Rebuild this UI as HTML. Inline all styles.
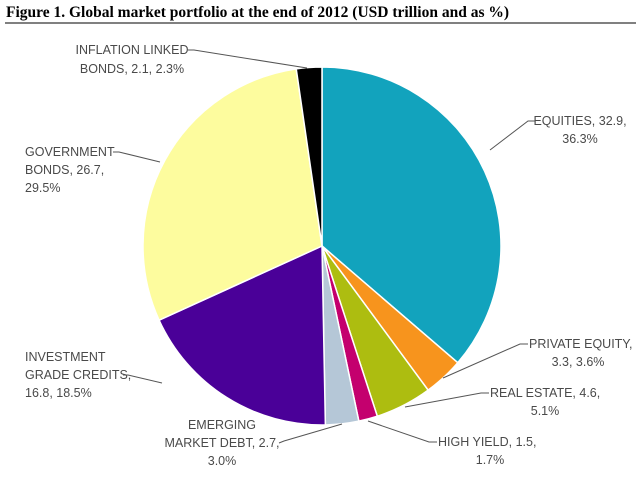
<!DOCTYPE html>
<html><head><meta charset="utf-8"><style>
html,body{margin:0;padding:0;background:#fff;}
svg{display:block;}
.lbl{font-family:"Liberation Sans",sans-serif;font-size:12.5px;fill:#4a4a4a;}
.ld{stroke:#555;stroke-width:1;fill:none;}
</style></head><body>
<svg id="chart" width="640" height="478" viewBox="0 0 640 478">
<text x="6" y="17" font-family="Liberation Serif,serif" font-weight="bold" font-size="15.5" fill="#000">Figure 1. Global market portfolio at the end of 2012 (USD trillion and as %)</text>
<line x1="5" y1="23" x2="636" y2="23" stroke="#000" stroke-width="1"/>
<g id="slices"></g>
<g>
<g><text class="lbl" text-anchor="middle" x="132" y="54">INFLATION LINKED</text><text class="lbl" text-anchor="middle" x="132" y="73">BONDS, 2.1, 2.3%</text><polyline class="ld" points="188,50 194,50 307,68"/></g>
<g><text class="lbl" text-anchor="middle" x="580" y="125">EQUITIES, 32.9,</text><text class="lbl" text-anchor="middle" x="580" y="143">36.3%</text><polyline class="ld" points="535,121 528,121 490,150"/></g>
<g><text class="lbl" x="25" y="156">GOVERNMENT</text><text class="lbl" x="25" y="174">BONDS, 26.7,</text><text class="lbl" x="25" y="192">29.5%</text><polyline class="ld" points="113,152 119,152 160,162"/></g>
<g><text class="lbl" x="25" y="361">INVESTMENT</text><text class="lbl" x="25" y="379">GRADE CREDITS,</text><text class="lbl" x="25" y="397">16.8, 18.5%</text><polyline class="ld" points="123,375 128,375 162,383"/></g>
<g><text class="lbl" text-anchor="middle" x="222" y="429">EMERGING</text><text class="lbl" text-anchor="middle" x="222" y="447">MARKET DEBT, 2.7,</text><text class="lbl" text-anchor="middle" x="222" y="465">3.0%</text><polyline class="ld" points="279,443 284,441 342,424"/></g>
<g><text class="lbl" x="438" y="446">HIGH YIELD, 1.5,</text><text class="lbl" text-anchor="middle" x="490" y="464">1.7%</text><polyline class="ld" points="437,442 429,442 368,421"/></g>
<g><text class="lbl" x="490" y="397">REAL ESTATE, 4.6,</text><text class="lbl" text-anchor="middle" x="545" y="415">5.1%</text><polyline class="ld" points="489,393 481,393 405,407"/></g>
<g><text class="lbl" x="529" y="348">PRIVATE EQUITY,</text><text class="lbl" text-anchor="middle" x="578" y="366">3.3, 3.6%</text><polyline class="ld" points="528,344 520,344 443,378"/></g>
</g>
</svg>
<script>
const categories = ["Equities","Private equity","Real estate","High yield","Emerging market debt","Investment grade credits","Government bonds","Inflation linked bonds"];
const values = [36.3, 3.6, 5.1, 1.7, 3.0, 18.5, 29.5, 2.3];
const colors = ["#12a3bd","#f7941d","#adbd10","#c4006e","#b5c7d7","#4a0098","#fdfc9e","#000000"];
const cx = 322, cy = 246, r = 179;
const total = values.reduce((a,b)=>a+b,0);
function angle(v){ return v/total*2*Math.PI; }
function pt(a){ return [cx + r*Math.sin(a), cy - r*Math.cos(a)]; }
const g = document.getElementById('slices');
let acc = 0;
values.forEach((v,i)=>{
  const a0 = angle(acc), a1 = angle(acc+v);
  acc += v;
  const p0 = pt(a0), p1 = pt(a1);
  const large = (a1-a0) > Math.PI ? 1 : 0;
  const p = document.createElementNS('http://www.w3.org/2000/svg','path');
  p.setAttribute('d', `M${cx},${cy} L${p0[0]},${p0[1]} A${r},${r} 0 ${large} 1 ${p1[0]},${p1[1]} Z`);
  p.setAttribute('fill', colors[i]);
  p.setAttribute('stroke', '#fff');
  p.setAttribute('stroke-width', '1.5');
  
  
  g.appendChild(p);
});
</script>
</body></html>
